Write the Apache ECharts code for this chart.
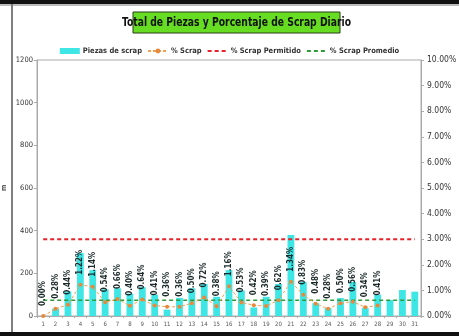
<!DOCTYPE html>
<html><head><meta charset="utf-8">
<script src="https://cdn.jsdelivr.net/npm/echarts@6/dist/echarts.min.js"></script>
<style>html,body{margin:0;padding:0;background:#fff}#c{width:459px;height:336px}</style>
</head><body><div id="c"></div>
<script>
const days = ['1','2','3','4','5','6','7','8','9','10','11','12','13','14','15','16','17','18','19','20','21','22','23','24','25','26','27','28','29','30','31'];
const piezas = [0,35,115,295,215,125,130,105,135,100,30,85,130,150,90,215,120,40,90,150,380,160,60,37,84,160,37,100,75,122,114];
const pctScrap = [0.00,0.28,0.44,1.22,1.14,0.54,0.66,0.40,0.64,0.41,0.36,0.36,0.50,0.72,0.38,1.16,0.53,0.42,0.39,0.62,1.34,0.83,0.48,0.28,0.50,0.56,0.34,0.41,null,null,null];
const pctPermitido = days.map(() => 3.0);
const pctPromedio = days.map(() => 0.62);
const leftTicks = [0, 1200, 200];
const rightTicks = [0, 10, 1];
const titleText = 'Total de Piezas y Porcentaje de Scrap Diario';

const FONT = '"Liberation Sans Narrow","DejaVu Sans Condensed","Liberation Sans",sans-serif';
const hidden = {color: 'transparent', borderColor: 'transparent', borderWidth: 0};
const chart = echarts.init(document.getElementById('c'), null, {renderer: 'canvas'});
chart.setOption({
  animation: false,
  backgroundColor: '#fff',
  legend: {
    top: 42, left: 'center', itemGap: 5, itemWidth: 20, itemHeight: 6,
    textStyle: {fontFamily: FONT, fontWeight: 'bold', fontSize: 7.5, color: '#333', padding: [0, 0, 0, -2]},
    data: [
      {name: 'Piezas de scrap', icon: 'rect'},
      {name: '% Scrap'},
      {name: '% Scrap Permitido', itemStyle: hidden},
      {name: '% Scrap Promedio', itemStyle: hidden}
    ]
  },
  graphic: [
    {type: 'rect', shape: {x: 0, y: 0, width: 459, height: 4}, style: {fill: '#111'}},
    {type: 'rect', shape: {x: 0, y: 332, width: 459, height: 4}, style: {fill: '#111'}},
    {type: 'line', shape: {x1: 12, y1: 4, x2: 12, y2: 332}, style: {stroke: '#555', lineWidth: 1.5}},
    {type: 'line', shape: {x1: 0, y1: 5, x2: 459, y2: 5}, style: {stroke: '#777', lineWidth: 1}},
    {type: 'rect', shape: {x: 133, y: 12, width: 207, height: 21}, style: {fill: '#66dd22', stroke: '#2a3a1a', lineWidth: 1}},
    {type: 'text', x: 236.5, y: 22.5, scaleX: 0.82,
      style: {text: titleText, fontFamily: FONT, fontWeight: 'bold', fontSize: 12.5, fill: '#111', align: 'center', verticalAlign: 'middle'}}
  ],
  grid: {left: 37, right: 38, top: 60, bottom: 20, show: true, borderColor: '#aaa', borderWidth: 1,
    containLabel: false, outerBoundsMode: 'none'},
  xAxis: {
    type: 'category', data: days, boundaryGap: true,
    axisLine: {lineStyle: {color: '#aaa'}},
    axisTick: {show: true, length: 2, lineStyle: {color: '#aaa'}},
    axisLabel: {fontFamily: FONT, fontSize: 6, color: '#555', margin: 5, interval: 0}
  },
  yAxis: [
    {
      type: 'value', min: leftTicks[0], max: leftTicks[1], interval: leftTicks[2],
      name: 'm', nameLocation: 'middle', nameRotate: 90, nameGap: 29, nameMoveOverlap: false,
      nameTextStyle: {fontSize: 7, color: '#333', fontWeight: 'bold'},
      axisLine: {show: true, lineStyle: {color: '#aaa'}},
      axisTick: {show: true, length: 3, lineStyle: {color: '#aaa'}},
      splitLine: {show: false},
      axisLabel: {fontFamily: FONT, fontSize: 7.5, color: '#333', margin: 4, formatter: v => String(v)}
    },
    {
      type: 'value', min: rightTicks[0], max: rightTicks[1], interval: rightTicks[2],
      position: 'right',
      axisLine: {show: true, lineStyle: {color: '#aaa'}},
      axisTick: {show: true, length: 3, lineStyle: {color: '#aaa'}},
      splitLine: {show: false},
      axisLabel: {fontFamily: FONT, fontSize: 8.5, color: '#333', margin: 6,
        formatter: v => v.toFixed(2) + '%'}
    }
  ],
  series: [
    {
      name: 'Piezas de scrap', type: 'bar', yAxisIndex: 0, data: piezas,
      barWidth: '55%', itemStyle: {color: '#3fe6e6'}
    },
    {
      name: '% Scrap Permitido', type: 'line', yAxisIndex: 1, data: pctPermitido,
      symbol: 'none', lineStyle: {color: '#e8202a', width: 2, type: [4, 3]},
      itemStyle: {color: '#e8202a'}
    },
    {
      name: '% Scrap Promedio', type: 'line', yAxisIndex: 1, data: pctPromedio,
      symbol: 'none', lineStyle: {color: '#2f9a3a', width: 1.5, type: [4, 3]},
      itemStyle: {color: '#2f9a3a'}
    },
    {
      name: '% Scrap', type: 'line', yAxisIndex: 1, data: pctScrap,
      symbol: 'circle', symbolSize: 4, connectNulls: false,
      lineStyle: {color: '#f0a050', width: 1, type: [3, 2]},
      itemStyle: {color: '#e8883a'},
      label: {
        show: true, position: 'top', rotate: 90, align: 'left', verticalAlign: 'middle',
        distance: 8, fontFamily: FONT, fontWeight: 'bold', fontSize: 8, color: '#1c2a2a',
        formatter: p => p.value == null ? '' : p.value.toFixed(2) + '%'
      },
      z: 5
    }
  ]
});
</script></body></html>
